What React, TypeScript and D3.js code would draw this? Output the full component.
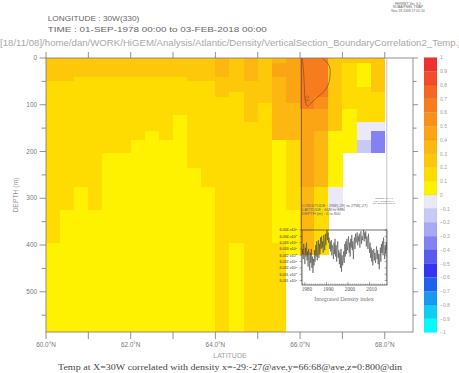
import React from "react";
import * as d3 from "d3";

const W = 459;
const H = 373;

// ---------- main section data ----------
const latEdges = [60, 60.3333, 60.6667, 61, 61.3333, 61.6667, 62, 62.3333, 62.6667, 63, 63.3333, 63.6667, 64, 64.3333, 64.6667, 65, 65.3333, 65.6667, 66, 66.3333, 66.6667, 67, 67.3333, 67.6667, 68, 68.3333, 68.6667];
const depthEdges = [0, 10, 40, 50, 61, 72, 83, 96, 109, 122, 137, 156, 176, 203, 236, 276, 325, 395, 420, 586];

const N = null;
// correlation values per depth layer (26 latitude cells each)
const r00 = [0.25,0.25,0.25,0.25,0.25,0.25,0.25,0.25,0.25,0.25,0.25,0.25,0.35,0.25,0.35,0.25,0.35,0.45,0.65,0.65,0.25,0.25,0.25,0.25,N,N];
const r01 = [0.25,0.25,0.25,0.25,0.25,0.25,0.25,0.25,0.25,0.25,0.25,0.25,0.35,0.25,0.35,0.25,0.45,0.45,0.65,0.65,0.25,0.15,0.05,0.25,N,N];
const r02 = [0.25,0.25,0.15,0.15,0.15,0.15,0.15,0.15,0.15,0.15,0.25,0.25,0.25,0.25,0.35,0.25,0.35,0.45,0.65,0.65,0.25,0.15,0.05,0.25,N,N];
const r03 = [0.15,0.15,0.15,0.15,0.15,0.15,0.15,0.15,0.15,0.15,0.15,0.15,0.25,0.25,0.25,0.25,0.35,0.45,0.65,0.65,0.25,0.15,0.05,0.25,N,N];
const r04 = [0.15,0.15,0.15,0.15,0.15,0.15,0.15,0.15,0.15,0.15,0.15,0.15,0.25,0.25,0.25,0.25,0.35,0.45,0.65,0.65,0.25,0.15,0.15,0.25,N,N];
const r05 = [0.15,0.15,0.15,0.15,0.15,0.15,0.15,0.15,0.15,0.15,0.15,0.15,0.25,0.15,0.25,0.25,0.35,0.45,0.65,0.65,0.25,0.15,0.15,0.15,N,N];
const r06 = [0.15,0.15,0.15,0.15,0.15,0.15,0.15,0.15,0.15,0.15,0.15,0.15,0.15,0.15,0.25,0.25,0.35,0.45,0.65,0.55,0.25,0.15,0.15,0.15,N,N];
const r07 = [0.15,0.15,0.15,0.15,0.15,0.15,0.15,0.15,0.15,0.15,0.15,0.15,0.15,0.15,0.25,0.15,0.35,0.35,0.65,0.55,0.25,0.15,0.15,0.15,N,N];
const r08 = [0.15,0.15,0.15,0.15,0.15,0.15,0.15,0.15,0.15,0.15,0.15,0.15,0.15,0.15,0.25,0.15,0.35,0.35,0.45,0.45,0.25,0.05,0.15,0.15,N,N];
const r09 = [0.15,0.15,0.15,0.15,0.15,0.15,0.15,0.15,0.15,0.05,0.15,0.15,0.15,0.15,0.25,0.15,0.35,0.35,0.45,0.45,0.25,0.05,0.15,0.15,N,N];
const r10 = [0.15,0.15,0.15,0.15,0.15,0.15,0.15,0.15,0.15,0.05,0.15,0.15,0.15,0.15,0.15,0.15,0.35,0.35,0.45,0.45,0.25,0.05,-0.05,-0.05,N,N];
const r11 = [0.15,0.15,0.15,0.15,0.15,0.15,0.15,0.05,0.15,0.05,0.15,0.15,0.15,0.15,0.15,0.15,0.35,0.35,0.45,0.35,0.05,0.05,-0.05,-0.35,N,N];
const r12 = [0.15,0.15,0.15,0.15,0.15,0.15,0.05,0.05,0.05,0.05,0.15,0.15,0.15,0.15,0.15,0.15,0.05,0.15,0.45,0.35,0.05,0.05,-0.15,-0.35,N,N];
const r13 = [0.15,0.15,0.15,0.15,0.05,0.05,0.05,0.05,0.05,0.05,0.15,0.15,0.15,0.15,0.15,0.15,0.05,0.15,0.45,0.35,0.05,N,N,N,N,N];
const r14 = [0.15,0.15,0.15,0.15,0.05,0.05,0.05,0.05,0.05,0.05,0.05,0.15,0.15,0.15,0.15,0.15,0.05,0.15,0.45,0.35,0.05,N,N,N,N,N];
const r15 = [0.15,0.15,0.05,0.15,0.05,0.05,0.05,0.05,0.05,0.05,0.05,0.05,0.15,0.15,0.15,0.15,0.05,0.15,0.35,0.15,-0.05,N,N,N,N,N];
const r16 = [0.15,0.05,0.05,0.05,0.05,0.05,0.05,0.05,0.05,0.05,0.05,0.05,0.15,0.15,0.15,0.15,0.05,0.05,0.35,0.15,N,N,N,N,N,N];
const r17 = [0.05,0.05,0.05,0.05,0.05,0.05,0.05,0.05,0.05,0.05,0.05,0.05,0.15,0.05,0.15,0.15,0.15,0.05,0.35,0.15,N,N,N,N,N,N];
const r18 = [0.05,0.05,0.05,0.05,0.05,0.05,0.05,0.05,0.05,0.05,0.05,0.05,0.15,0.05,0.15,0.15,0.15,N,N,N,N,N,N,N,N,N];
const corrRows = [r00, r01, r02, r03, r04, r05, r06, r07, r08, r09, r10, r11, r12, r13, r14, r15, r16, r17, r18];

// 0.6 contour (lat, depth)
const contourLat = [66.05, 66.08, 66.10, 66.12, 66.17, 66.24, 66.38, 66.55, 66.67, 66.71, 66.69, 66.60, 66.52];
const contourDepth = [0, 26, 58, 90, 103, 98, 86, 73, 56, 34, 17, 6, 0];

// axes
const latTicks = [60, 61, 62, 63, 64, 65, 66, 67, 68];
const latLabels = [60, 62, 64, 66, 68];
const depthMajor = [0, 100, 200, 300, 400, 500];
const depthMinor = [50, 150, 250, 350, 450, 550];

// colour key
const cbThresholds = [-0.9, -0.8, -0.7, -0.6, -0.5, -0.4, -0.3, -0.2, -0.1, 0, 0.1, 0.2, 0.3, 0.4, 0.5, 0.6, 0.7, 0.8, 0.9];
const cbColors = ["#00fcfc", "#12cdf3", "#1a98f2", "#2260f0", "#3434f2", "#5a5af0", "#8282f0", "#a8a8f4", "#c9c9f8", "#e9e9f8",
  "#fff200", "#fedc02", "#fdc70a", "#fcb710", "#fba414", "#f9901a", "#f77c1e", "#f56524", "#f24c2a", "#ef3030"];
const cbLevels = [1, 0.9, 0.8, 0.7, 0.6, 0.5, 0.4, 0.3, 0.2, 0.1, 0, -0.1, -0.2, -0.3, -0.4, -0.5, -0.6, -0.7, -0.8, -0.9, -1];
const cbLabels = ["1", "0.9", "0.8", "0.7", "0.6", "0.5", "0.4", "0.3", "0.2", "0.1", "0", "\u22120.1", "\u22120.2", "\u22120.3", "\u22120.4", "\u22120.5", "\u22120.6", "\u22120.7", "\u22120.8", "\u22120.9", "\u22121"];

// ---------- inset: integrated density index (quarterly) ----------
const insetStart = 1978.75;
const insetStep = 0.25;
const densityIndex = [
  6.0326,
  6.0330, 6.0322, 6.0334, 6.0326,
  6.0318, 6.0331, 6.0324, 6.0335,
  6.0321, 6.0328, 6.0316, 6.0330,
  6.0325, 6.0313, 6.0327, 6.0319,
  6.0330, 6.0315, 6.0324, 6.0311,
  6.0322, 6.0317, 6.0329, 6.0320,
  6.0333, 6.0324, 6.0336, 6.0321,
  6.0329, 6.0337, 6.0323, 6.0334,
  6.0326, 6.0339, 6.0330, 6.0340,
  6.0331, 6.0336, 6.0327, 6.0341,
  6.0335, 6.0329, 6.0342, 6.0333,
  6.0340, 6.0345, 6.0337, 6.0343,
  6.0335, 6.0339, 6.0330, 6.0336,
  6.0328, 6.0337, 6.0325, 6.0333,
  6.0330, 6.0322, 6.0335, 6.0326,
  6.0338, 6.0324, 6.0333, 6.0320,
  6.0331, 6.0336, 6.0323, 6.0329,
  6.0318, 6.0327, 6.0315, 6.0330,
  6.0312, 6.0325, 6.0317, 6.0321,
  6.0328, 6.0319, 6.0334, 6.0324,
  6.0336, 6.0326, 6.0338, 6.0329,
  6.0333, 6.0340, 6.0327, 6.0335,
  6.0324, 6.0338, 6.0331, 6.0341,
  6.0329, 6.0336, 6.0322, 6.0334,
  6.0339, 6.0330, 6.0342, 6.0335,
  6.0338, 6.0343, 6.0333, 6.0340,
  6.0336, 6.0342, 6.0331, 6.0339,
  6.0344, 6.0334, 6.0340, 6.0337,
  6.0341, 6.0345, 6.0336, 6.0343,
  6.0338, 6.0344, 6.0332, 6.0340,
  6.0337, 6.0330, 6.0342, 6.0334,
  6.0327, 6.0335, 6.0323, 6.0331,
  6.0320, 6.0329, 6.0317, 6.0326,
  6.0330, 6.0321, 6.0327, 6.0319,
  6.0325, 6.0332, 6.0322, 6.0329,
  6.0318, 6.0326, 6.0314, 6.0324,
  6.0331, 6.0320, 6.0334, 6.0327,
  6.0336, 6.0325, 6.0339, 6.0330,
  6.0322, 6.0333, 6.0326, 6.0335,
  6.0329,
];
const insetYTicks = [6.0345, 6.0340, 6.0335, 6.0330, 6.0325, 6.0320, 6.0315, 6.0310, 6.0305];
const insetYLabels = ["6.034", "6.034", "6.033", "6.033", "6.032", "6.032", "6.032", "6.031", "6.031"];
const insetXTicks = [1980, 1990, 2000, 2010];
const insetYearTicks = [1979, 1980, 1981, 1982, 1983, 1984, 1985, 1986, 1987, 1988, 1989, 1990, 1991, 1992, 1993, 1994, 1995, 1996, 1997, 1998, 1999, 2000, 2001, 2002, 2003, 2004, 2005, 2006, 2007, 2008, 2009, 2010, 2011, 2012, 2013, 2014, 2015, 2016, 2017, 2018];

const SANS = "Liberation Sans, DejaVu Sans, sans-serif";
const SERIF = "Liberation Serif, DejaVu Serif, serif";

export default function App() {
  const x = d3.scaleLinear().domain([60, 68.6667]).range([46, 413]);
  const y = d3.scaleLinear().domain([0, 586]).range([58, 332]);
  const color = d3.scaleThreshold<number, string>().domain(cbThresholds).range(cbColors);
  const cbY = d3.scaleLinear().domain([1, -1]).range([57.5, 332.5]);

  const ix = d3.scaleLinear().domain([1978.67, 2018.09]).range([302, 387]);
  const iy = d3.scaleLinear().domain([6.03015, 6.0345]).range([285, 230]);

  const cells: React.ReactNode[] = [];
  corrRows.forEach((row, r) => {
    row.forEach((v, c) => {
      if (v === null) return;
      const x0 = x(latEdges[c]);
      const x1 = x(latEdges[c + 1]);
      const y0 = y(depthEdges[r]);
      const y1 = y(depthEdges[r + 1]);
      cells.push(
        <rect key={`c${r}-${c}`} x={x0} y={y0} width={x1 - x0 + 0.4} height={y1 - y0 + 0.4} fill={color(v)} />
      );
    });
  });

  const contourPath = d3
    .line<number>()
    .x((_, i) => x(contourLat[i]))
    .y((_, i) => y(contourDepth[i]))
    .curve(d3.curveCatmullRom)(contourLat) as string;

  const seriesPath = d3
    .line<number>()
    .x((_, i) => ix(insetStart + i * insetStep))
    .y((d) => iy(d))(densityIndex) as string;

  const minorInsetY = d3.range(6.0305, 6.03451, 0.0001);

  return (
    <svg width={W} height={H} style={{ position: "absolute", left: 0, top: 0, background: "#fff", display: "block" }}
      xmlns="http://www.w3.org/2000/svg">
      <rect x={0} y={0} width={W} height={H} fill="#fff" />
      <defs>
        <clipPath id="insetClip"><rect x={302} y={230} width={85} height={55} /></clipPath>
      </defs>

      {/* header */}
      <g fontFamily={SANS} fill="#666" fontSize={3.4} textAnchor="middle">
        <text x={408} y={4.5}>FERRET Ver. 6.1</text>
        <text x={408} y={8}>NOAA/PMEL TMAP</text>
        <text x={408} y={11.5}>Nov 18 2008 17:01:10</text>
      </g>
      <g fontFamily={SANS} fill="#666" fontSize={7.8}>
        <text x={47.7} y={21.3} textLength={91.6} lengthAdjust="spacingAndGlyphs">LONGITUDE : 30W(330)</text>
        <text x={47.7} y={31.5} textLength={219} lengthAdjust="spacingAndGlyphs">TIME : 01-SEP-1978 00:00 to 03-FEB-2018 00:00</text>
      </g>
      <text x={0} y={45.5} fontFamily={SANS} fontSize={8.2} fill="#a8a8a8" textLength={468} lengthAdjust="spacingAndGlyphs">
        [18/11/08]/home/dan/WORK/HiGEM/Analysis/Atlantic/Density/VerticalSection_BoundaryCorrelation2_Temp.jnl
      </text>

      {/* shaded field */}
      <g shapeRendering="crispEdges">{cells}</g>

      {/* contour */}
      <path d={contourPath} fill="none" stroke="#8a4a1c" strokeWidth={0.7} />
      <text transform={`translate(${x(66.12)},${y(80)}) rotate(90)`} fontFamily={SANS} fontSize={4.5} fill="#8a4a1c">0.6</text>

      {/* main frame + ticks */}
      <g stroke="#777" strokeWidth={0.8} fill="none">
        <rect x={46} y={58} width={367} height={274} />
        {latTicks.map((t) => (
          <g key={`lt${t}`}>
            <line x1={x(t)} x2={x(t)} y1={58} y2={52} />
            <line x1={x(t)} x2={x(t)} y1={332} y2={339} />
          </g>
        ))}
        {depthMajor.map((d) => (
          <g key={`dm${d}`}>
            <line x1={46} x2={39.5} y1={y(d)} y2={y(d)} />
            <line x1={413} x2={418} y1={y(d)} y2={y(d)} />
          </g>
        ))}
        {depthMinor.map((d) => (
          <g key={`dn${d}`}>
            <line x1={46} x2={41.5} y1={y(d)} y2={y(d)} />
            <line x1={413} x2={416.5} y1={y(d)} y2={y(d)} />
          </g>
        ))}
      </g>
      <g fontFamily={SANS} fontSize={6.4} fill="#777" textAnchor="end">
        {depthMajor.map((d) => (
          <text key={`dl${d}`} x={37} y={y(d) + 2.2}>{d}</text>
        ))}
      </g>
      <text transform={`translate(18,195) rotate(-90)`} fontFamily={SANS} fontSize={6.8} fill="#999" textAnchor="middle">DEPTH (m)</text>
      <g fontFamily={SANS} fontSize={6.4} fill="#777" textAnchor="middle">
        {latLabels.map((t) => (
          <text key={`xl${t}`} x={x(t)} y={347}>{`${t.toFixed(1)}\u00B0N`}</text>
        ))}
      </g>
      <text x={230} y={357.5} fontFamily={SANS} fontSize={7} fill="#a0a0a0" textAnchor="middle">LATITUDE</text>
      <text x={230} y={369.5} fontFamily={SERIF} fontSize={8} fill="#444" textAnchor="middle" textLength={344} lengthAdjust="spacingAndGlyphs">
        Temp at X=30W correlated with density x=-29:-27@ave,y=66:68@ave,z=0:800@din
      </text>

      {/* colour key */}
      <g>
        {cbLevels.slice(0, -1).map((top, i) => {
          const bot = cbLevels[i + 1];
          return (
            <rect key={`cb${i}`} x={424} y={cbY(top)} width={13} height={cbY(bot) - cbY(top)}
              fill={color((top + bot) / 2)} stroke="#00000018" strokeWidth={0.4} />
          );
        })}
        <g fontFamily={SANS} fontSize={5} fill="#a0a0a0">
          {cbLevels.map((v, i) => (
            <text key={`cbl${i}`} x={440} y={cbY(v) + 1.8}>{cbLabels[i]}</text>
          ))}
        </g>
      </g>

      {/* inset */}
      <g stroke="#555" strokeWidth={0.7}>
        <line x1={301.5} x2={301.5} y1={58} y2={230} />
        <line x1={386.8} x2={386.8} y1={58} y2={230} stroke="#aaa" />
      </g>
      <g fontFamily={SANS} fontSize={4} fill="#666">
        <text x={302} y={206.5}>LONGITUDE : 29W(-29) to 27W(-27)</text>
        <text x={302} y={210.5}>LATITUDE : 66N to 68N</text>
        <text x={302} y={214.5}>DEPTH (m) : 0 to 800</text>
      </g>
      <g fontFamily={SANS} fontSize={2.3} fill="#666" textAnchor="middle">
        <text x={384} y={199}>FERRET Ver. 6.1</text>
        <text x={384} y={201.5}>NOAA/PMEL TMAP</text>
        <text x={384} y={204}>Nov 18 2008 17:01:10</text>
      </g>
      <path d={seriesPath} fill="none" stroke="#444" strokeWidth={0.55} clipPath="url(#insetClip)" />
      <rect x={302} y={230} width={85} height={55} fill="none" stroke="#333" strokeWidth={0.7} />
      <g stroke="#444" strokeWidth={0.4}>
        {minorInsetY.map((v, i) => (
          <g key={`iym${i}`}>
            <line x1={302} x2={300.8} y1={iy(v)} y2={iy(v)} />
            <line x1={387} x2={385.8} y1={iy(v)} y2={iy(v)} />
          </g>
        ))}
        {insetYTicks.map((v, i) => (
          <g key={`iyt${i}`}>
            <line x1={302} x2={299.5} y1={iy(v)} y2={iy(v)} />
            <line x1={387} x2={384.5} y1={iy(v)} y2={iy(v)} />
          </g>
        ))}
        {insetYearTicks.map((t) => (
          <line key={`ixm${t}`} x1={ix(t)} x2={ix(t)} y1={285} y2={283.5} />
        ))}
        {insetXTicks.map((t) => (
          <line key={`ixt${t}`} x1={ix(t)} x2={ix(t)} y1={285} y2={282} />
        ))}
      </g>
      <g fontFamily={SANS} fontSize={3.7} fill="#333" textAnchor="end">
        {insetYTicks.map((v, i) => (
          <text key={`iyl${i}`} x={297} y={iy(v) + 1.3}>
            {insetYLabels[i]} x10<tspan dy={-1.3} fontSize={2.4}>5</tspan>
          </text>
        ))}
      </g>
      <g fontFamily={SERIF} fontSize={5.2} fill="#555" textAnchor="middle">
        {insetXTicks.map((t) => (
          <text key={`ixl${t}`} x={ix(t) + 2} y={291}>{t}</text>
        ))}
      </g>
      <text x={344} y={301} fontFamily={SERIF} fontSize={6} fill="#777" textAnchor="middle">Integrated Density index</text>
    </svg>
  );
}
